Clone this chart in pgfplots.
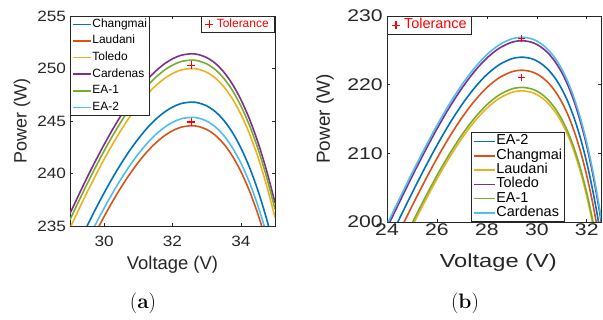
\documentclass[border=0pt]{standalone}
\usepackage{pgfplots}
\usepackage{pgfplotstable}
\pgfplotsset{compat=1.18}
\usepackage{fontspec}
\newfontfamily\arial{Liberation Sans}
\definecolor{mb}{RGB}{0,114,189}
\definecolor{mo}{RGB}{217,83,25}
\definecolor{my}{RGB}{237,177,32}
\definecolor{mp}{RGB}{126,47,142}
\definecolor{mg}{RGB}{119,172,48}
\definecolor{mc}{RGB}{77,190,238}
\definecolor{ax}{RGB}{38,38,38}
\definecolor{tr}{RGB}{255,0,0}

\pgfplotstableread{
V Changmai Laudani Toledo Cardenas EAone EAtwo
29.00 231.59 229.34 234.79 236.19 235.59 230.14
29.25 233.32 231.07 236.52 237.92 237.32 231.87
29.50 235.01 232.76 238.21 239.61 239.01 233.56
29.75 236.62 234.37 239.82 241.22 240.62 235.17
30.00 238.16 235.91 241.36 242.76 242.16 236.71
30.25 239.61 237.36 242.81 244.21 243.61 238.16
30.50 240.96 238.71 244.16 245.56 244.96 239.51
30.75 242.20 239.95 245.40 246.80 246.20 240.75
31.00 243.31 241.06 246.51 247.91 247.31 241.86
31.25 244.30 242.05 247.50 248.90 248.30 242.85
31.50 245.13 242.88 248.33 249.73 249.13 243.68
31.75 245.81 243.56 249.01 250.41 249.81 244.36
32.00 246.32 244.07 249.52 250.92 250.32 244.87
32.25 246.66 244.41 249.86 251.26 250.66 245.21
32.55 246.80 244.55 250.00 251.40 250.80 245.35
32.75 246.73 244.48 249.93 251.33 250.73 245.28
33.00 246.44 244.19 249.64 251.04 250.44 244.99
33.25 245.90 243.65 249.10 250.50 249.90 244.45
33.50 245.07 242.82 248.27 249.67 249.07 243.62
33.75 243.93 241.68 247.13 248.53 247.93 242.48
34.00 242.45 240.20 245.65 247.05 246.45 241.00
34.25 240.61 238.36 243.81 245.21 244.61 239.16
34.50 238.38 236.13 241.58 242.98 242.38 236.93
34.75 235.72 233.47 238.92 240.32 239.72 234.27
35.00 232.62 230.37 235.82 237.22 236.62 231.17
}\tablea

\pgfplotstableread{
V EAtwo Changmai Laudani Toledo EAone Cardenas
24.00 196.74 194.84 191.84 199.14 192.34 199.64
24.50 200.50 198.60 195.60 202.90 196.10 203.40
25.00 204.20 202.30 199.30 206.60 199.80 207.10
25.50 207.77 205.87 202.87 210.17 203.37 210.67
26.00 211.16 209.26 206.26 213.56 206.76 214.06
26.50 214.29 212.39 209.39 216.69 209.89 217.19
27.00 217.09 215.19 212.19 219.49 212.69 219.99
27.50 219.51 217.61 214.61 221.91 215.11 222.41
28.00 221.48 219.58 216.58 223.88 217.08 224.38
28.50 222.92 221.02 218.02 225.32 218.52 225.82
29.00 223.78 221.88 218.88 226.18 219.38 226.68
29.40 224.00 222.10 219.10 226.40 219.60 226.90
29.75 223.82 221.92 218.92 226.22 219.42 226.72
30.00 223.46 221.56 218.56 225.86 219.06 226.36
30.25 222.86 220.96 217.96 225.26 218.46 225.76
30.50 222.01 220.11 217.11 224.41 217.61 224.91
30.75 220.86 218.96 215.96 223.26 216.46 223.76
31.00 219.36 217.46 214.46 221.76 214.96 222.26
31.25 217.46 215.56 212.56 219.86 213.06 220.36
31.50 215.08 213.18 210.18 217.48 210.68 217.98
31.75 212.17 210.27 207.27 214.57 207.77 215.07
32.00 208.64 206.74 203.74 211.04 204.24 211.54
32.25 204.40 202.50 199.50 206.80 200.00 207.30
32.50 199.37 197.47 194.47 201.77 194.97 202.27
32.75 193.44 191.54 188.54 195.84 189.04 196.34
}\tableb

\pgfplotsset{
  mat/.style={
    scale only axis, anchor=south west,
    axis line style={ax, line width=0.7bp},
    tick style={ax, line width=0.6bp},
    major tick length=3bp, tick align=inside,
    /pgf/number format/assume math mode=true,
    ticklabel style={text=ax},
    label style={text=ax},
    legend cell align=left,
  },
  cv/.style={line width=1.6bp, smooth},
  tol/.style={
    scale only axis, anchor=south west, hide axis,
    legend cell align=left,
    legend image code/.code={\draw[tr, line width=1.3bp] (0bp,0bp) -- (8bp,0bp) (4bp,-4bp) -- (4bp,4bp);},
  },
}

\begin{document}
\begin{tikzpicture}
\path[use as bounding box] (0,0) rectangle (603bp,320bp);

% ---------------- (a)
\begin{axis}[mat,
  at={(70bp,94bp)}, width=205bp, height=210bp,
  xmin=29, xmax=35, ymin=235, ymax=255,
  xtick={30,32,34}, ytick={235,240,245,250,255},
  xticklabel style={font=\arial\fontsize{15}{15}\selectfont, xscale=1.15, yshift=-7bp},
  yticklabel style={font=\arial\fontsize{15}{15}\selectfont, xscale=1.15},
  xlabel={Voltage (V)}, ylabel={Power (W)},
  xlabel style={font=\arial\fontsize{18.5}{20}\selectfont, at={(axis description cs:0.5,-0.186)}, anchor=center},
  ylabel style={font=\arial\fontsize{18}{20}\selectfont, at={(axis description cs:-0.234,0.5)}, anchor=center, rotate=0},
  legend style={at={(0,1)}, anchor=north west, draw=ax, line width=0.7bp,
    font=\arial\fontsize{12}{13}\selectfont, inner sep=1.5bp,
    nodes={inner sep=1bp, text height=8.5bp, text depth=2.5bp}, row sep=3.6bp},
  legend image code/.code={\draw[#1, line width=1.6bp] (0bp,0bp) -- (18bp,0bp);},
]
\addplot[mb, cv] table[x=V, y=Changmai] {\tablea};
\addlegendentry{Changmai}
\addplot[mo, cv] table[x=V, y=Laudani] {\tablea};
\addlegendentry{Laudani}
\addplot[my, cv] table[x=V, y=Toledo] {\tablea};
\addlegendentry{Toledo}
\addplot[mp, cv] table[x=V, y=Cardenas] {\tablea};
\addlegendentry{Cardenas}
\addplot[mg, cv] table[x=V, y=EAone] {\tablea};
\addlegendentry{EA-1}
\addplot[mc, cv] table[x=V, y=EAtwo] {\tablea};
\addlegendentry{EA-2}
\end{axis}

\begin{axis}[tol,
  at={(70bp,94bp)}, width=205bp, height=210bp,
  xmin=29, xmax=35, ymin=235, ymax=255,
  legend style={at={(1,1)}, anchor=north east, draw=ax, line width=0.7bp,
    font=\arial\fontsize{12}{13}\selectfont, text=tr, inner xsep=3bp, inner ysep=1.5bp,
    nodes={inner sep=1bp, text height=8.5bp, text depth=2.5bp}},
]
\addplot[only marks, mark=+, color=tr, mark options={tr, solid, line width=1.3bp}, mark size=4bp] coordinates {(32.55,250.3) (32.55,244.9)};
\addlegendentry{\,Tolerance\,}
\end{axis}

% ---------------- (b)
\begin{axis}[mat,
  at={(387bp,98bp)}, width=214bp, height=206bp,
  xmin=24, xmax=32.57, ymin=200, ymax=230,
  xtick={24,26,28,30,32}, ytick={200,210,220,230},
  xticklabel style={font=\arial\fontsize{17}{17}\selectfont, xscale=1.25, yshift=1.5bp},
  yticklabel style={font=\arial\fontsize{17}{17}\selectfont, xscale=1.25},
  xlabel={Voltage (V)}, ylabel={Power (W)},
  xlabel style={font=\arial\fontsize{19}{21}\selectfont, xscale=1.25, at={(axis description cs:0.52,-0.199)}, anchor=center},
  ylabel style={font=\arial\fontsize{19}{21}\selectfont, at={(axis description cs:-0.29,0.5)}, anchor=center, rotate=0},
  legend style={at={(0.832,0)}, anchor=south east, draw=ax, line width=0.7bp,
    font=\arial\fontsize{14.5}{15}\selectfont, inner sep=1.5bp,
    nodes={inner sep=1bp, text height=9.5bp, text depth=2.8bp}, row sep=0bp},
  legend image code/.code={\draw[#1, line width=1.6bp] (0bp,0bp) -- (21bp,0bp);},
]
\addplot[mb, cv] table[x=V, y=EAtwo] {\tableb};
\addlegendentry{EA-2}
\addplot[mo, cv] table[x=V, y=Changmai] {\tableb};
\addlegendentry{Changmai}
\addplot[my, cv] table[x=V, y=Laudani] {\tableb};
\addlegendentry{Laudani}
\addplot[mp, cv] table[x=V, y=Toledo] {\tableb};
\addlegendentry{Toledo}
\addplot[mg, cv] table[x=V, y=EAone] {\tableb};
\addlegendentry{EA-1}
\addplot[mc, cv] table[x=V, y=Cardenas] {\tableb};
\addlegendentry{Cardenas}
\end{axis}

\begin{axis}[tol,
  at={(387bp,98bp)}, width=214bp, height=206bp,
  xmin=24, xmax=32.57, ymin=200, ymax=230,
  legend style={at={(0,1)}, anchor=north west, draw=ax, line width=0.7bp,
    font=\arial\fontsize{14.5}{16}\selectfont, text=tr, inner xsep=4bp, inner ysep=1.5bp,
    nodes={inner sep=1bp, text height=10bp, text depth=3bp}},
]
\addplot[only marks, mark=+, color=tr, mark options={tr, solid, line width=1.2bp}, mark size=3.5bp] coordinates {(29.4,226.7) (29.4,221.0)};
\addlegendentry{\,Tolerance\qquad}
\end{axis}

\node[font=\fontsize{21}{24}\selectfont] at (143bp,17bp) {(\textbf{a})};
\node[font=\fontsize{21}{24}\selectfont] at (465bp,17bp) {(\textbf{b})};
\end{tikzpicture}
\end{document}
